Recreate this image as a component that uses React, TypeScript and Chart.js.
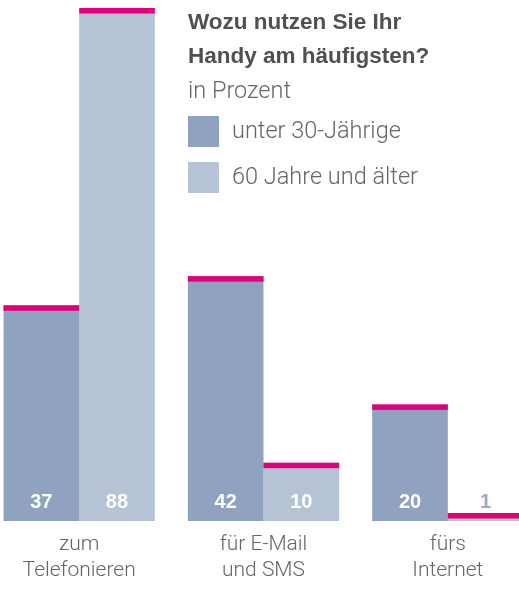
import React, { useEffect, useRef } from "react";
import { Chart, registerables } from "chart.js";

Chart.register(...registerables);

const categories = [["zum", "Telefonieren"], ["für E-Mail", "und SMS"], ["fürs", "Internet"]];
const seriesNames = ["unter 30-Jährige", "60 Jahre und älter"];
const under30 = [37, 42, 20];
const over60 = [88, 10, 1];
const titleLines = ["Wozu nutzen Sie Ihr", "Handy am häufigsten?"];
const subtitle = "in Prozent";

const DARK = "#8fa3c0";
const LIGHT = "#b6c3d7";
const MAGENTA = "#e2007a";
const SHIFT = 13;

const overlayPlugin = {
  id: "overlay",
  afterDatasetsDraw(chart: any) {
    const ctx = chart.ctx;
    ctx.save();
    chart.data.datasets.forEach((ds: any, di: number) => {
      const meta = chart.getDatasetMeta(di);
      meta.data.forEach((bar: any, i: number) => {
        const w = bar.width;
        ctx.fillStyle = MAGENTA;
        ctx.fillRect(bar.x - w / 2, Math.min(bar.y, bar.base - 8), w, 5.5);
        const v = ds.data[i];
        ctx.fillStyle = bar.base - bar.y > 30 ? "#ffffff" : "#9aabc8";
        ctx.font = "bold 20px 'Liberation Sans', Arial, sans-serif";
        ctx.textAlign = "center";
        ctx.textBaseline = "alphabetic";
        ctx.fillText(String(v), bar.x, bar.base - 13);
      });
    });
    // title + legend
    const x0 = 188 + SHIFT;
    ctx.textAlign = "left";
    ctx.textBaseline = "alphabetic";
    ctx.fillStyle = "#505050";
    ctx.font = "bold 22.5px 'Liberation Sans', Arial, sans-serif";
    titleLines.forEach((t, i) => ctx.fillText(t, x0, 29 + i * 34));
    ctx.fillStyle = "#666666";
    ctx.font = "300 23.5px Roboto, sans-serif";
    ctx.fillText(subtitle, x0, 98);
    const colors = [DARK, LIGHT];
    seriesNames.forEach((n, i) => {
      const top = 116 + i * 46;
      ctx.fillStyle = colors[i];
      ctx.fillRect(x0, top, 31, 31);
      ctx.fillStyle = "#666666";
      ctx.fillText(n, x0 + 44, top + 22);
    });
    ctx.restore();
  },
};

export default function App() {
  const ref = useRef<HTMLCanvasElement>(null);
  useEffect(() => {
    const chart = new Chart(ref.current!, {
      type: "bar",
      data: {
        labels: categories as any,
        datasets: [
          { label: seriesNames[0], data: under30, backgroundColor: DARK, borderWidth: 0 },
          { label: seriesNames[1], data: over60, backgroundColor: LIGHT, borderWidth: 0 },
        ],
      },
      options: {
        animation: false,
        responsive: true,
        maintainAspectRatio: false,
        layout: { padding: { top: 8, left: 0, right: 0, bottom: 0 } },
        datasets: { bar: { categoryPercentage: 0.8207, barPercentage: 1 } },
        plugins: { legend: { display: false }, tooltip: { enabled: false }, title: { display: false } },
        scales: {
          x: {
            grid: { display: false, drawTicks: false },
            border: { display: false },
            ticks: {
              color: "#666666",
              font: { family: "Roboto", size: 21, weight: "300" as any, lineHeight: 26 / 21 },
              padding: 11,
              maxRotation: 0,
              autoSkip: false,
            },
            afterFit: (s: any) => {
              s.height = 68;
            },
          },
          y: { display: false, min: 0, max: 88 },
        },
      },
      plugins: [overlayPlugin],
    });
    return () => chart.destroy();
  }, []);
  return (
    <div style={{ position: "fixed", left: 0, top: 0, width: 519, height: 589, overflow: "hidden", background: "#fff" }}>
      <div style={{ position: "absolute", left: -SHIFT, top: 0, width: 519 + 2 * SHIFT + 8, height: 589 }}>
        <canvas ref={ref} />
      </div>
    </div>
  );
}
